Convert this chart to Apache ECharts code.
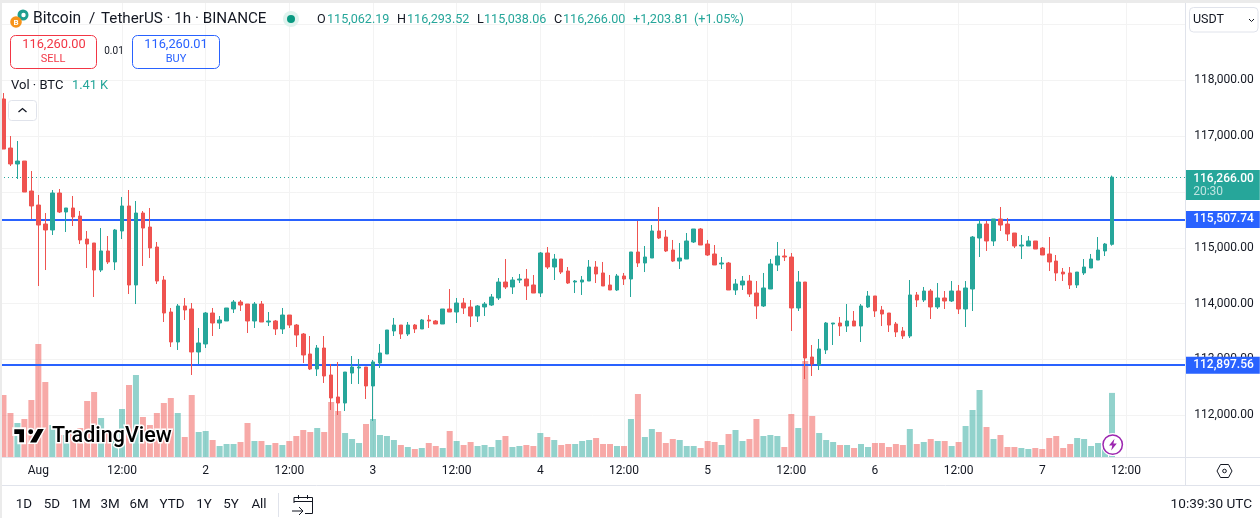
<!DOCTYPE html>
<html>
<head>
<meta charset="utf-8">
<title>BTCUSDT 1h</title>
<style>
html,body{margin:0;padding:0;background:#fff;overflow:hidden}
#chartBox{width:1260px;height:518px}
</style>
<script src="https://cdn.jsdelivr.net/npm/echarts@6/dist/echarts.min.js"></script>
</head>
<body>
<div id="chartBox"></div>
<script>
var opens = [117665,116787,116501,116554,116017,115766,115426,115319,115981,115641,
115713,115569,115157,115086,114602,114943,114746,115301,115749,114334,
115623,115372,115014,114423,113850,113313,113958,113904,113134,113277,
113832,113653,113689,113904,114029,113993,113689,113993,113671,113689,
113546,113796,113617,113456,113098,112829,113205,112722,112328,112220,
112757,112847,112865,112525,112937,113098,113510,113617,113456,113617,
113546,113707,113689,113635,113904,113850,114011,113940,113778,113940,
113975,114101,114387,114298,114423,114441,114334,114190,114907,114656,
114799,114584,114387,114387,114405,114656,114549,114334,114244,114495,
114441,114925,114728,114817,115301,115193,114960,114763,114799,115104,
115337,115068,114889,114710,114728,114244,114334,114405,114190,113958,
114262,114692,114853,114835,113922,114387,113044,112901,113170,113635,
113653,113599,113689,113599,113940,114137,113886,113832,113635,113510,
113420,114155,114065,114226,113940,114101,114047,114226,113904,114262,
115175,115426,115122,115516,115426,115265,115032,115032,115122,114996,
114889,114763,114566,114549,114334,114549,114638,114781,114943,115062.19];
var closes = [116769,116501,116554,115999,115749,115408,115319,115981,115641,115713,
115552,115140,115068,114602,114943,114746,115319,115749,114334,115623,
115354,114996,114405,113832,113313,113958,113886,113134,113295,113832,
113653,113707,113922,114029,113975,113689,113993,113671,113689,113546,
113796,113617,113438,113080,112829,113205,112704,112310,112220,112775,
112865,112865,112525,112955,113116,113528,113617,113456,113617,113546,
113707,113689,113635,113904,113850,114011,113922,113778,113958,113993,
114119,114387,114298,114423,114441,114316,114190,114907,114656,114799,
114566,114369,114405,114423,114656,114531,114316,114244,114495,114441,
114925,114728,114835,115301,115175,114943,114763,114817,115122,115337,
115050,114871,114692,114728,114244,114352,114405,114172,113958,114280,
114710,114853,114835,113922,114387,113026,112919,113188,113653,113653,
113599,113689,113599,113958,114137,113868,113814,113617,113492,113420,
114155,114065,114226,113940,114101,114047,114226,113904,114280,115193,
115426,115122,115516,115408,115247,115032,115050,115122,114978,114871,
114746,114549,114531,114334,114566,114656,114799,114960,115068,116266];
var lows = [116769,116465,116232,115999,115516,114316,114602,115229,115623,115283,
115390,115068,114638,114119,114566,114710,114602,115157,114172,113993,
114674,114817,114352,113671,113223,113170,113707,112722,112919,113205,
113420,113546,113689,113832,113868,113474,113564,113671,113599,113438,
113456,113564,113223,112937,112811,112704,112579,112095,112005,112077,
112561,112561,112292,111900,112847,113098,113420,113367,113420,113474,
113546,113564,113635,113635,113850,113653,113814,113581,113671,113778,
113958,114065,114262,114172,114369,114065,114190,114119,114620,114423,
114531,114352,114190,114155,114405,114369,114316,114244,114226,114334,
114119,114656,114566,114817,115157,114925,114746,114620,114799,115086,
115050,114853,114692,114620,114244,114155,114244,114119,113725,113940,
114262,114584,114763,113510,113868,112650,112704,112811,113098,113259,
113420,113492,113599,113313,113922,113761,113599,113492,113402,113367,
113384,113940,114029,113725,113904,113904,114029,113814,113581,113868,
114835,114943,115032,115301,115122,114996,114799,115032,114978,114871,
114584,114405,114405,114262,114280,114513,114638,114781,114853,115038.06];
var highs = [117772,117002,116913,116554,116375,115946,115623,116035,116053,115713,
115928,115659,115301,115086,115354,115211,115337,115910,116035,115838,
115659,115713,115104,114495,113922,113993,114101,114011,113564,113850,
113922,113778,113922,114065,114065,113993,114029,114047,113850,113707,
113922,113796,113635,113474,113420,113259,113420,112919,112955,112775,
113062,113008,112865,112990,113277,113528,113743,113617,113671,113635,
113725,113796,113707,113904,114262,114101,114101,114065,113975,114029,
114172,114459,114799,114477,114531,114620,114513,114925,115014,114889,
114799,114656,114423,114495,114781,114763,114746,114513,114531,114549,
114925,115480,115032,115408,115731,115319,115140,115086,115265,115337,
115354,115140,115050,114835,114746,114441,114495,114513,114405,114549,
114799,115104,114978,114907,114584,114387,113259,113367,113671,113653,
113761,113993,113868,113993,114226,114137,113958,113832,113671,113581,
114423,114208,114298,114262,114369,114226,114405,114334,114405,115211,
115498,115480,115516,115731,115534,115265,115229,115211,115122,115014,
115193,114871,114638,114656,114566,114799,114889,115193,115086,116293.52];
var volumes = [1364,968,748,836,1254,2486,1650,704,484,484,
594,638,1232,1430,858,528,484,1056,1584,1804,
880,704,968,1188,1298,968,440,1364,550,572,
374,242,286,286,330,748,352,352,264,308,
264,352,462,594,550,638,550,1210,1012,528,
396,308,726,836,484,462,374,264,220,176,
198,308,242,198,572,352,264,330,242,264,
220,374,462,220,242,264,242,528,440,374,
264,286,286,352,374,418,286,286,242,242,
836,1386,440,616,550,308,396,374,242,242,
198,352,330,264,506,594,352,396,836,462,
484,462,220,946,638,2112,902,528,374,330,
264,264,198,286,220,308,308,220,286,264,
616,286,330,396,352,352,242,330,682,1034,
1474,660,396,484,220,220,198,176,198,176,
418,462,198,286,418,396,242,308,330,1410];
var timeTicks = ["Aug","12:00","2","12:00","3","12:00","4","12:00","5","12:00","6","12:00","7","12:00"];
var levels = [115507.74, 112897.56];
var lastPrice = 116266;
var countdown = "20:30";
var rangeButtons = [["1D",24],["5D",52],["1M",81],["3M",110],["6M",139],["YTD",172],["1Y",204],["5Y",231],["All",259]];

var UP = "#26a69a", DOWN = "#ef5350", BLUE = "#2962ff", INK = "#131722", LINE = "#e0e3eb";
var FONT = "Roboto, sans-serif";

// first candle is Jul 31 19:00, ticks every 12 hours from Aug 1 00:00, 10 empty bars on the right
var hours = [];
for(var h = 0; h < 170; h++){
  var fromAug = h - 5;
  hours.push(fromAug >= 0 && fromAug % 12 == 0 ? timeTicks[fromAug / 12] : "");
}
var hasTick = function(i){
  return hours[i] !== "";
};
var money = function(v){
  return v.toLocaleString("en-US", {minimumFractionDigits: 2, maximumFractionDigits: 2});
};

var candles = [], volumeBars = [];
for(var i = 0; i < opens.length; i++){
  candles.push([opens[i], closes[i], lows[i], highs[i]]);
  volumeBars.push({
    value: volumes[i],
    itemStyle: {color: closes[i] >= opens[i] ? "rgba(38,166,154,0.5)" : "rgba(239,83,80,0.5)"}
  });
}

var tx = function(x, y, text, size, color, align, weight){
  return {type: "text", z: 100, x: x, y: y, silent: true, style: {
    text: text, fill: color || INK, font: (weight || "400") + " " + size + "px " + FONT,
    align: align || "left", verticalAlign: "middle"
  }};
};
var box = function(x, y, w, h, r, stroke, fill){
  return {type: "rect", z: 100, silent: true, shape: {x: x, y: y, width: w, height: h, r: r},
    style: {fill: fill || "none", stroke: stroke || null, lineWidth: 1}};
};
var seg = function(points, color, width){
  return {type: "polyline", z: 100, silent: true, shape: {points: points},
    style: {fill: "none", stroke: color || INK, lineWidth: width || 1}};
};
var poly = function(points, fill, stroke, width){
  return {type: "polygon", z: 100, silent: true, shape: {points: points},
    style: {fill: fill, stroke: stroke || null, lineWidth: width || 0}};
};
var dot = function(x, y, r, fill, stroke, width){
  return {type: "circle", z: 100, silent: true, shape: {cx: x, cy: y, r: r},
    style: {fill: fill, stroke: stroke || null, lineWidth: width || 0}};
};

var overlay = [
  // frame
  box(0, 0, 1260, 3, 0, null, "#ebebeb"),
  box(0, 0, 2, 518, 0, null, "#ebebeb"),
  seg([[1185.5, 3], [1185.5, 485]], LINE),
  seg([[2, 457.5], [1260, 457.5]], LINE),
  seg([[2, 485.5], [1260, 485.5]], LINE),
  // header
  dot(23, 15, 5.5, "#1f9e8f"),
  dot(23.5, 15, 2.2, "#fff"),
  dot(16, 22, 5.8, "#f7931a"),
  tx(16, 22.5, "B", 8, "#fff", "center", "700"),
  tx(33, 19.5, "Bitcoin", 15.6),
  tx(89, 19.5, "/", 15.2),
  tx(101, 19.5, "TetherUS · 1h · BINANCE", 15.2),
  dot(291, 19, 8, "#dff3ee"),
  dot(291, 19, 4, "#089981"),
  tx(317, 19.5, "O", 12.6), tx(327, 19.5, "115,062.19", 12.6, UP),
  tx(397, 19.5, "H", 12.6), tx(407, 19.5, "116,293.52", 12.6, UP),
  tx(477, 19.5, "L", 12.6), tx(484, 19.5, "115,038.06", 12.6, UP),
  tx(554, 19.5, "C", 12.6), tx(563, 19.5, "116,266.00", 12.6, UP),
  tx(633, 19.5, "+1,203.81", 12.7, UP),
  tx(694, 19.5, "(+1.05%)", 12.7, UP),
  // order buttons
  box(10.5, 35.5, 86, 33, 5, "#f23645"),
  tx(54, 45, "116,260.00", 12.8, "#f23645", "center"),
  tx(53, 59, "SELL", 11, "#f23645", "center"),
  tx(114, 51.5, "0.01", 10, INK, "center"),
  box(132.5, 35.5, 87, 33, 5, BLUE),
  tx(176, 45, "116,260.01", 12.8, BLUE, "center"),
  tx(176, 59, "BUY", 11, BLUE, "center"),
  tx(11, 85.5, "Vol · BTC", 13),
  tx(72, 85.5, "1.41 K", 12.8, UP),
  box(8.5, 100.5, 28, 20, 3, LINE, "#fff"),
  seg([[18.5, 112], [22.5, 108.5], [26.5, 112]], INK, 1.3),
  // currency button
  box(1189.5, 7.5, 68.5, 24.5, 4, LINE, "#fff"),
  tx(1193, 19.5, "USDT", 12.5),
  seg([[1249, 19], [1251.5, 21.5], [1254, 19]], INK, 1),
  // logo
  poly([[13.3, 428.3], [25, 428.3], [25, 443.3], [18.3, 443.3], [18.3, 435], [13.3, 435]], "#000", "#fff", 2),
  dot(30.7, 431.7, 3.2, "#000", "#fff", 1.5),
  poly([[37.3, 428.3], [45, 428.3], [36.7, 443.3], [28.7, 443.3]], "#000", "#fff", 1.5),
  {type: "text", z: 100, x: 52, y: 436.5, silent: true, style: {
    text: "TradingView", fill: "#000", stroke: "#fff", lineWidth: 3,
    font: "500 21.5px " + FONT, verticalAlign: "middle"
  }},
  // bolt badge
  dot(1112.7, 444.6, 11.5, "#fff"),
  dot(1112.7, 444.6, 9.7, "#fff", "#9c27b0", 1.5),
  poly([[1114.5, 438.8], [1109, 445.5], [1112.3, 445.5], [1111.2, 450.5], [1116.8, 443.6], [1113.4, 443.6]], "#9c27b0"),
  // settings
  poly([[1217, 471], [1220.5, 464.5], [1228.5, 464.5], [1232, 471], [1228.5, 477.5], [1220.5, 477.5]], "none", INK, 1),
  dot(1224.5, 471, 1.8, "none", INK, 1),
  // bottom bar
  seg([[278.5, 493], [278.5, 517]], LINE),
  seg([[294, 503], [294, 497.5], [312.5, 497.5], [312.5, 513.5], [305, 513.5]], INK, 1),
  seg([[294, 501.5], [312.5, 501.5]], INK, 1),
  seg([[298.5, 495], [298.5, 499]], INK, 1),
  seg([[307.5, 495], [307.5, 499]], INK, 1),
  seg([[292, 511], [303, 511]], INK, 1),
  seg([[299, 507], [303, 511], [299, 515]], INK, 1),
  tx(1252, 505, "10:39:30 UTC", 13.6, INK, "right")
];
for(var b = 0; b < rangeButtons.length; b++){
  overlay.push(tx(rangeButtons[b][1], 505, rangeButtons[b][0], 13.4, INK, "center"));
}

var levelLine = function(v){
  return {
    yAxis: v,
    lineStyle: {color: BLUE, width: 2, type: "solid"},
    label: {
      show: true, position: "end", distance: 0, formatter: money(v),
      color: "#fff", fontFamily: FONT, fontSize: 12, fontWeight: 500, lineHeight: 13,
      backgroundColor: BLUE, padding: [2, 6, 2, 8]
    }
  };
};

var option = {
  animation: false,
  textStyle: {fontFamily: FONT},
  grid: [
    {left: -1.4, width: 1186.6, top: 24.47, height: 446.66},
    {left: -1.4, width: 1186.6, top: 3, height: 454}
  ],
  xAxis: [
    {type: "category", gridIndex: 0, data: hours, show: false},
    {
      type: "category", gridIndex: 1, data: hours,
      axisLine: {show: false},
      axisTick: {show: false},
      axisLabel: {interval: 0, margin: 8, color: INK, fontSize: 12, fontFamily: FONT},
      splitLine: {show: true, interval: hasTick, alignWithLabel: true, lineStyle: {color: "#f3f3f3", width: 1}}
    }
  ],
  yAxis: [
    {
      type: "value", gridIndex: 0, position: "right", min: 111000, max: 119000, interval: 1000,
      axisLine: {show: false},
      axisTick: {show: false},
      axisLabel: {
        margin: 9, color: INK, fontSize: 12, fontFamily: FONT, padding: [2, 0, 0, 0],
        showMinLabel: false, showMaxLabel: false, formatter: money
      },
      splitLine: {show: true, showMinLine: false, lineStyle: {color: "#f3f3f3", width: 1}}
    },
    {type: "value", gridIndex: 1, min: 0, max: 9988, show: false}
  ],
  series: [
    {
      type: "bar", name: "Vol", xAxisIndex: 1, yAxisIndex: 1, z: 1,
      data: volumeBars, barWidth: 6
    },
    {
      type: "candlestick", name: "BTCUSDT", xAxisIndex: 0, yAxisIndex: 0, z: 3,
      data: candles, barWidth: 4,
      itemStyle: {color: UP, color0: DOWN, borderColor: UP, borderColor0: DOWN, borderWidth: 1},
      markLine: {
        silent: true, symbol: "none", animation: false, z: 2,
        data: [
          levelLine(levels[0]),
          levelLine(levels[1]),
          {
            yAxis: lastPrice,
            lineStyle: {color: UP, width: 1, type: [1, 3]},
            label: {
              show: true, position: "end", distance: 0, offset: [0, 8],
              formatter: "{p|" + money(lastPrice) + "}\n{t|" + countdown + "}",
              backgroundColor: UP, padding: [2, 6, 2, 8],
              rich: {
                p: {color: "#fff", fontFamily: FONT, fontSize: 12, fontWeight: 500, lineHeight: 13},
                t: {color: "rgba(255,255,255,0.7)", fontFamily: FONT, fontSize: 12, lineHeight: 13}
              }
            }
          }
        ]
      }
    }
  ],
  graphic: {elements: overlay}
};

window.onload = function(){
  var myChart = echarts.init(document.querySelector("#chartBox"));
  myChart.setOption(option);
  window.addEventListener("resize", function(){
    myChart.resize();
  }, false);
};
</script>
</body>
</html>
